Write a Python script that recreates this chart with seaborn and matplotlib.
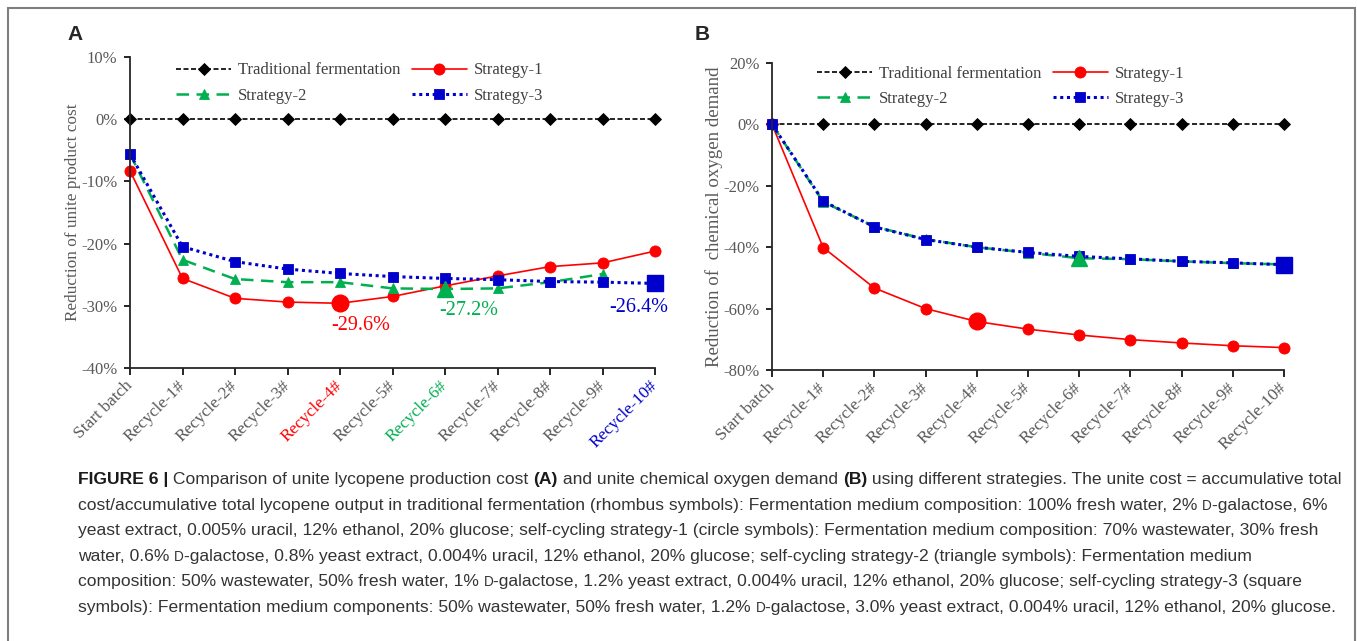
import numpy as np
import pandas as pd
import matplotlib
matplotlib.use("Agg")
import matplotlib.pyplot as plt
from matplotlib.ticker import PercentFormatter
from matplotlib.patches import Rectangle
import seaborn as sns

# ---- data ----
labels = ["Start batch", "Recycle-1#", "Recycle-2#", "Recycle-3#", "Recycle-4#",
          "Recycle-5#", "Recycle-6#", "Recycle-7#", "Recycle-8#", "Recycle-9#",
          "Recycle-10#"]

# panel A: reduction of unite product cost (%)
cost_trad = [0, 0, 0, 0, 0, 0, 0, 0, 0, 0, 0]
cost_s1 = [-8.3, -25.6, -28.8, -29.4, -29.6, -28.5, -26.8, -25.2, -23.7, -23.1, -21.2]
cost_s2 = [-5.6, -22.6, -25.7, -26.2, -26.2, -27.2, -27.3, -27.2, -26.2, -24.9]
cost_s3 = [-5.6, -20.5, -22.9, -24.1, -24.8, -25.3, -25.6, -25.8, -26.1, -26.2, -26.4]

# panel B: reduction of chemical oxygen demand (%)
cod_trad = [0, 0, 0, 0, 0, 0, 0, 0, 0, 0, 0]
cod_s1 = [0, -40.1, -53.3, -60.0, -64.2, -66.7, -68.6, -70.1, -71.2, -72.1, -72.7]
cod_s2 = [0, -25.2, -33.3, -37.4, -40.0, -41.8, -43.6, -43.9, -44.6, -45.2, -45.6]
cod_s3 = [0, -25.0, -33.4, -37.5, -40.0, -41.7, -43.0, -43.8, -44.6, -45.1, -45.7]

# highlighted (best) points: strategy-1 -> Recycle-4#, strategy-2 -> Recycle-6#, strategy-3 -> Recycle-10#
best_idx = {"s1": 4, "s2": 6, "s3": 10}
annot_text = ["-29.6%", "-27.2%", "-26.4%"]

RED = "#FF0000"
GREEN = "#00B050"
BLUE = "#0000CC"
GRAY = "#595959"

sns.set_style("ticks")
plt.rcParams["font.family"] = ["Liberation Serif", "DejaVu Serif"]
plt.rcParams["axes.unicode_minus"] = False

fig = plt.figure(figsize=(13.57, 6.41), dpi=100)
W, H = 1357, 641


def px_axes(x0, x1, ytop, ybot):
    return fig.add_axes([x0 / W, 1 - ybot / H, (x1 - x0) / W, (ybot - ytop) / H])


styles = {
    "trad": dict(color="black", linestyle=(0, (3, 1.5)), linewidth=1.2, marker="D", markersize=6.5),
    "s1": dict(color=RED, linestyle="-", linewidth=1.2, marker="o", markersize=8),
    "s2": dict(color=GREEN, linestyle=(0, (5, 3)), linewidth=1.8, marker="^", markersize=7),
    "s3": dict(color=BLUE, linestyle=(0, (1, 1.2)), linewidth=2.2, marker="s", markersize=7),
}
big = {"s1": 12, "s2": 12, "s3": 11}
names = {"trad": "Traditional fermentation", "s1": "Strategy-1", "s2": "Strategy-2", "s3": "Strategy-3"}


def draw_panel(ax, series, ylim, yticks, ylabel, ylabel_size, tick_colors, leg_y):
    for key, vals in series.items():
        x = np.arange(len(vals))
        st = styles[key]
        sns.lineplot(x=x, y=vals, ax=ax, label=names[key], clip_on=False,
                     markeredgewidth=0.6, markeredgecolor=st["color"], **st)
        if key in best_idx and best_idx[key] < len(vals):
            i = best_idx[key]
            ax.plot([i], [vals[i]], marker=st["marker"], markersize=big[key],
                    color=st["color"], linestyle="none", clip_on=False, zorder=5)
    ax.set_xlim(0, 10)
    ax.set_ylim(*ylim)
    ax.set_yticks(yticks)
    ax.yaxis.set_major_formatter(PercentFormatter(decimals=0))
    ax.set_xticks(range(len(labels)))
    ax.set_xticklabels(labels, rotation=45, ha="right", va="center", rotation_mode="anchor")
    ax.tick_params(axis="both", labelcolor=GRAY, direction="out", width=1.2, color="black")
    ax.tick_params(axis="x", length=5, pad=6, labelsize=12.5)
    ax.tick_params(axis="y", length=4, pad=5, labelsize=12)
    for lab, c in zip(ax.get_xticklabels(), tick_colors):
        lab.set_color(c)
    ax.set_ylabel(ylabel, fontsize=ylabel_size, color=GRAY, labelpad=0)
    ax.set_xlabel("")
    sns.despine(ax=ax)
    ax.spines["left"].set_linewidth(1.3)
    ax.spines["bottom"].set_linewidth(1.3)
    h, l = ax.get_legend_handles_labels()
    order = [0, 2, 1, 3]
    leg = ax.legend([h[i] for i in order], [l[i] for i in order], ncol=2, frameon=False,
                    loc="upper left", bbox_to_anchor=(0.075, leg_y), fontsize=12,
                    handlelength=3.3, handletextpad=0.4, columnspacing=0.7,
                    labelspacing=0.55, borderaxespad=0)
    for t in leg.get_texts():
        t.set_color("#404040")


# ---- panel A ----
axA = px_axes(130, 655, 57, 368)
colA = [GRAY] * 11
colA[4], colA[6], colA[10] = RED, GREEN, BLUE
draw_panel(axA, {"trad": cost_trad, "s1": cost_s1, "s2": cost_s2, "s3": cost_s3},
           (-40, 10), [-40, -30, -20, -10, 0, 10], "Reduction of unite product cost", 12.4,
           colA, 1.004)
axA.text(4.4, -33.2, annot_text[0], color=RED, fontsize=14.5, ha="center", va="center")
axA.text(6.45, -30.7, annot_text[1], color=GREEN, fontsize=14.5, ha="center", va="center")
axA.text(9.7, -30.2, annot_text[2], color=BLUE, fontsize=14.5, ha="center", va="center")

# ---- panel B ----
axB = px_axes(772, 1284, 63, 370)
draw_panel(axB, {"trad": cod_trad, "s1": cod_s1, "s2": cod_s2, "s3": cod_s3},
           (-80, 20), [-80, -60, -40, -20, 0, 20], "Reduction of  chemical oxygen demand", 13.6,
           [GRAY] * 11, 1.012)

# panel letters
fig.text(75 / W, 1 - 35 / H, "A", fontsize=15, fontweight="bold", family="Liberation Sans",
         ha="center", va="center")
fig.text(702 / W, 1 - 35 / H, "B", fontsize=15, fontweight="bold", family="Liberation Sans",
         ha="center", va="center")

# outer frame
fig.patches.append(Rectangle((8 / W, -0.02), (1355 - 8) / W, 1.02 - 8 / H,
                             transform=fig.transFigure, fill=False,
                             edgecolor="#7f7f7f", linewidth=1.5))

# ---- caption ----
CAP = "#333333"
cap_size = 12.6
caption = [
    [("FIGURE 6 |", "b"), (" Comparison of unite lycopene production cost ", "r"), ("(A)", "b"),
     (" and unite chemical oxygen demand ", "r"), ("(B)", "b"),
     (" using different strategies. The unite cost = accumulative total", "r")],
    [("cost/accumulative total lycopene output in traditional fermentation (rhombus symbols): "
      "Fermentation medium composition: 100% fresh water, 2% ", "r"), ("D", "s"),
     ("-galactose, 6%", "r")],
    [("yeast extract, 0.005% uracil, 12% ethanol, 20% glucose; self-cycling strategy-1 "
      "(circle symbols): Fermentation medium composition: 70% wastewater, 30% fresh", "r")],
    [("water, 0.6% ", "r"), ("D", "s"), ("-galactose, 0.8% yeast extract, 0.004% uracil, 12% ethanol, "
      "20% glucose; self-cycling strategy-2 (triangle symbols): Fermentation medium", "r")],
    [("composition: 50% wastewater, 50% fresh water, 1% ", "r"), ("D", "s"),
     ("-galactose, 1.2% yeast extract, 0.004% uracil, 12% ethanol, 20% glucose; "
      "self-cycling strategy-3 (square", "r")],
    [("symbols): Fermentation medium components: 50% wastewater, 50% fresh water, 1.2% ", "r"),
     ("D", "s"), ("-galactose, 3.0% yeast extract, 0.004% uracil, 12% ethanol, 20% glucose.", "r")],
]
renderer = fig.canvas.get_renderer()
y0 = 484
for li, parts in enumerate(caption):
    xpix = 78
    ypix = y0 + li * 25.6
    for txt, kind in parts:
        kw = dict(family=["Liberation Sans", "DejaVu Sans"], color=CAP, fontsize=cap_size)
        if kind == "b":
            kw.update(fontweight="bold", color="#1a1a1a")
        elif kind == "s":
            kw.update(fontsize=cap_size * 0.78)
        t = fig.text(xpix / W, 1 - ypix / H, txt, ha="left", va="baseline", **kw)
        bb = t.get_window_extent(renderer)
        xpix = bb.x1

fig.savefig("out.png", dpi=100)
